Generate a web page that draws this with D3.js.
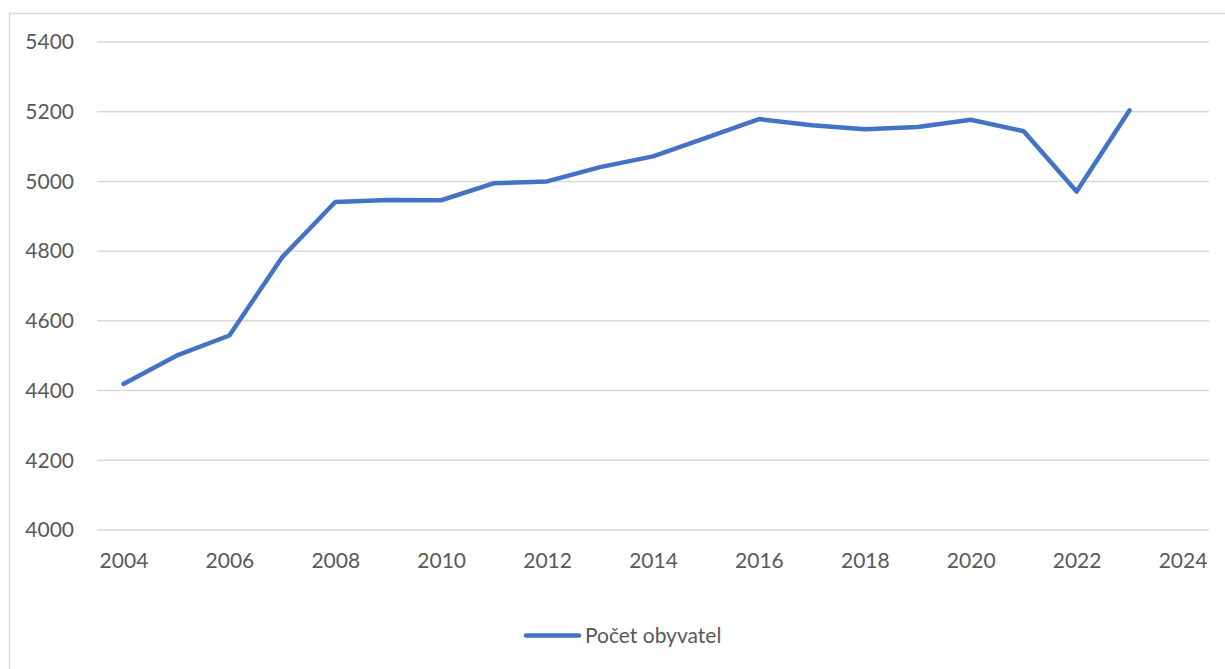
<!DOCTYPE html>
<html>
<head>
<meta charset="utf-8">
<script src="https://cdn.jsdelivr.net/npm/d3@7"></script>
<style>
  html, body { margin: 0; padding: 0; background: #fff; }
  svg { display: block; font-family: Lato, "Open Sans", sans-serif; }
</style>
</head>
<body>
<svg id="chart" width="1225" height="669"></svg>
<script>
const years = [2004, 2005, 2006, 2007, 2008, 2009, 2010, 2011, 2012, 2013, 2014, 2015, 2016, 2017, 2018, 2019, 2020, 2021, 2022, 2023];
const population = [4419, 4500, 4558, 4783, 4941, 4947, 4946, 4995, 5000, 5041, 5072, 5125, 5179, 5161, 5150, 5156, 5177, 5144, 4971, 5204];
const xTicks = [2004, 2006, 2008, 2010, 2012, 2014, 2016, 2018, 2020, 2022, 2024];
const yTicks = [4000, 4200, 4400, 4600, 4800, 5000, 5200, 5400];
const seriesName = "Počet obyvatel";

const svg = d3.select("#chart");
const textColor = "#595959";
const gridColor = "#d9d9d9";
const lineColor = "#4472C4";
const fontSize = "21px";

// outer frame (clipped on right and bottom like the reference)
svg.append("rect")
  .attr("x", 9.5).attr("y", 13.5)
  .attr("width", 1400).attr("height", 800)
  .attr("fill", "none").attr("stroke", gridColor).attr("stroke-width", 1.5);

const x = d3.scaleLinear().domain([2003.5, 2024.5]).range([97, 1209]);
const y = d3.scaleLinear().domain([4000, 5400]).range([530, 42]);

// gridlines
svg.append("g").selectAll("line").data(yTicks).join("line")
  .attr("x1", 97).attr("x2", 1209)
  .attr("y1", d => y(d)).attr("y2", d => y(d))
  .attr("stroke", gridColor).attr("stroke-width", 1.5);

// y axis labels
const yAxis = d3.axisLeft(y).tickValues(yTicks).tickSize(0).tickPadding(0).tickFormat(d3.format("d"));
const gy = svg.append("g").attr("transform", "translate(74,0)").call(yAxis);
gy.select(".domain").remove();
gy.selectAll("text").attr("fill", textColor).style("font-size", fontSize).style("font-family", "Lato, 'Open Sans', sans-serif");

// x axis labels
const xAxis = d3.axisBottom(x).tickValues(xTicks).tickSize(0).tickPadding(0).tickFormat(d3.format("d"));
const gx = svg.append("g").attr("transform", "translate(0,553)").call(xAxis);
gx.select(".domain").remove();
gx.selectAll("text").attr("fill", textColor).style("font-size", fontSize).style("font-family", "Lato, 'Open Sans', sans-serif");

// line
const line = d3.line().x((d, i) => x(years[i])).y(d => y(d));
svg.append("path")
  .datum(population)
  .attr("d", line)
  .attr("fill", "none")
  .attr("stroke", lineColor)
  .attr("stroke-width", 4.5)
  .attr("stroke-linejoin", "round")
  .attr("stroke-linecap", "round");

// legend
const lg = svg.append("g");
lg.append("line")
  .attr("x1", 526).attr("x2", 579).attr("y1", 635.5).attr("y2", 635.5)
  .attr("stroke", lineColor).attr("stroke-width", 4.5).attr("stroke-linecap", "round");
lg.append("text")
  .attr("x", 585).attr("y", 635.5).attr("dy", "0.35em")
  .attr("fill", textColor).style("font-size", fontSize)
  .text(seriesName);
</script>
</body>
</html>
